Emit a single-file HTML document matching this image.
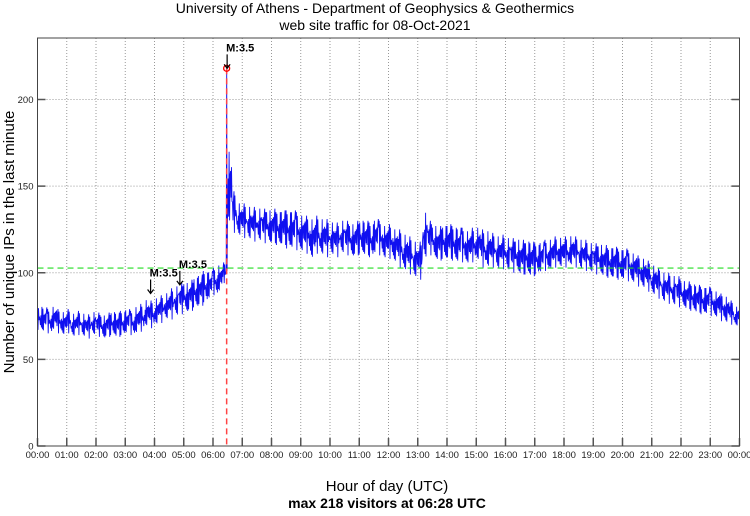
<!DOCTYPE html>
<html><head><meta charset="utf-8"><style>
body{margin:0;background:#fff;width:750px;height:511px;overflow:hidden}
svg{font-family:"Liberation Sans",sans-serif}
</style></head><body>
<svg id="c" width="750" height="511">
<text x="375" y="13" text-anchor="middle" font-size="14">University of Athens - Department of Geophysics &amp; Geothermics</text>
<text x="375" y="30" text-anchor="middle" font-size="14">web site traffic for 08-Oct-2021</text>
<text x="387" y="491" text-anchor="middle" font-size="15">Hour of day (UTC)</text>
<text x="387" y="508" text-anchor="middle" font-size="14" font-weight="bold">max 218 visitors at 06:28 UTC</text>
<text transform="translate(14,242) rotate(-90)" text-anchor="middle" font-size="15">Number of unique IPs in the last minute</text>
<g id="grid"></g><g id="series"></g><g id="marks"></g><g id="axes"></g>
</svg>
<script>
const yTicks=[0,50,100,150,200];
const hourLabels=["00:00","01:00","02:00","03:00","04:00","05:00","06:00","07:00","08:00","09:00","10:00","11:00","12:00","13:00","14:00","15:00","16:00","17:00","18:00","19:00","20:00","21:00","22:00","23:00","00:00"];
const mean10=[74,73,72,74,72,71, 72,70,71,70,69,71, 70,69,70,71,70,71, 72,71,73,74,77,76, 78,79,81,82,84,85, 86,87,89,90,92,93, 95,97,100,150,135,131, 130,129,128,128,127,127, 127,126,126,125,125,124, 123,122,120,122,121,120, 120,119,121,120,119,120, 121,120,119,121,120,118, 118,116,114,112,110,108, 107,122,120,118,117,118, 118,117,116,116,115,116, 117,114,114,113,112,112, 111,110,110,109,109,108, 108,109,110,111,112,112, 112,113,112,111,110,109, 108,108,107,106,106,105, 105,104,103,101,100,98, 96,94,92,91,90,89, 88,87,86,85,84,84, 83,82,80,79,77,75];
const spread10=[7,7,7,7,7,7, 7,7,7,7,7,7, 7,7,7,7,7,7, 7,7,8,8,8,8, 8,8,8,9,9,9, 9,9,9,9,9,8, 8,8,6,22,12,10, 10,10,10,10,10,10, 10,10,10,11,11,11, 11,11,12,11,11,11, 10,10,10,10,10,10, 10,10,10,10,10,10, 10,10,11,11,11,11, 11,14,10,10,10,10, 10,10,10,10,10,10, 10,11,11,10,10,10, 10,10,10,10,10,10, 9,9,9,9,9,9, 9,9,9,9,9,9, 9,9,9,9,9,9, 9,9,9,9,9,9, 9,9,9,9,9,9, 8,8,8,8,8,8, 8,8,8,8,7,6];
const peakMinute=388, peakValue=218, avgValue=102.7;
const quakeMinutes=[232,292,389];
const quakeLabels=["M:3.5","M:3.5","M:3.5"];
const quakeTipValues=[88,93,218];
const X0=37.5,X1=739.5,Y0=446,YT=38,YMAX=(446-38)/1.7325;
const x=m=>X0+(X1-X0)*m/1440, y=v=>Y0-(Y0-YT)*v/YMAX;
const NS="http://www.w3.org/2000/svg";
function mk(p,t,a){const e=document.createElementNS(NS,t);for(const k in a)e.setAttribute(k,a[k]);document.getElementById(p).appendChild(e);return e;}
hourLabels.forEach((l,i)=>{const xx=x(i*60);
 if(i>0&&i<24){const g=mk('grid','line',{x1:xx,x2:xx,y1:YT,y2:Y0,stroke:'#999','stroke-dasharray':'1,2'});
 }
 const t=mk('axes','line',{x1:xx,x2:xx,y1:Y0,y2:Y0-8,stroke:'#555','stroke-width':1.5});
 
 const tx=mk('axes','text',{x:xx,y:Y0+12,'text-anchor':'middle','font-size':9.5,fill:'#222'});tx.textContent=l;
 });
yTicks.forEach(v=>{const yy=y(v);
 if(v>0){const g=mk('grid','line',{x1:X0,x2:X1,y1:yy,y2:yy,stroke:'#999','stroke-dasharray':'1,2'});
 }
 [[X0,X0+8],[X1,X1-8]].forEach(p=>{const t=mk('axes','line',{x1:p[0],x2:p[1],y1:yy,y2:yy,stroke:'#555','stroke-width':1.5});
 });
 const tx=mk('axes','text',{x:X0-4,y:yy+3.5,'text-anchor':'end','font-size':9.5,fill:'#222'});tx.textContent=v;
 });
const fr=mk('axes','rect',{x:X0,y:YT,width:X1-X0,height:Y0-YT,fill:'none',stroke:'#444'});

const pat=[1,-0.6,0.4,-1,0.2,-0.3,0.8,-0.8,0.5,-0.2,0.9,-0.4,0.1,-0.9,0.6,-0.1,0.3];
let pts=[];
mean10.forEach((m,i)=>{for(let k=0;k<10;k++){const mi=i*10+k;
 if(mi===peakMinute){pts.push([x(mi),y(peakValue)]);continue;}
 pts.push([x(mi),y(m+spread10[i]*pat[(k*3+i*7)%17])]);}});
const ln=mk('series','polyline',{points:pts.map(p=>p[0].toFixed(1)+','+p[1].toFixed(1)).join(' '),fill:'none',stroke:'#1010f0','stroke-width':0.9});

const av=mk('marks','line',{x1:X0,x2:X1,y1:y(avgValue),y2:y(avgValue),stroke:'#22dd22','stroke-dasharray':'6,4','stroke-width':1.2});

const pl=mk('marks','line',{x1:x(peakMinute),x2:x(peakMinute),y1:y(peakValue),y2:Y0,stroke:'#ff4444','stroke-dasharray':'6,4','stroke-width':1.5});

const pc=mk('marks','circle',{cx:x(peakMinute),cy:y(peakValue),r:3,fill:'none',stroke:'#ff0000','stroke-width':1.3});

quakeMinutes.forEach((m,i)=>{const xx=x(m),yy=y(quakeTipValues[i]);
 const a=mk('marks','path',{d:`M${xx},${yy-14}L${xx},${yy}M${xx-3},${yy-4}L${xx},${yy}L${xx+3},${yy-4}`,stroke:'#000',fill:'none','stroke-width':1.2});
 
 const t=mk('marks','text',{x:xx-1,y:yy-17,'font-size':11,'font-weight':'bold'});t.textContent=quakeLabels[i];
 });
</script>
</body></html>
